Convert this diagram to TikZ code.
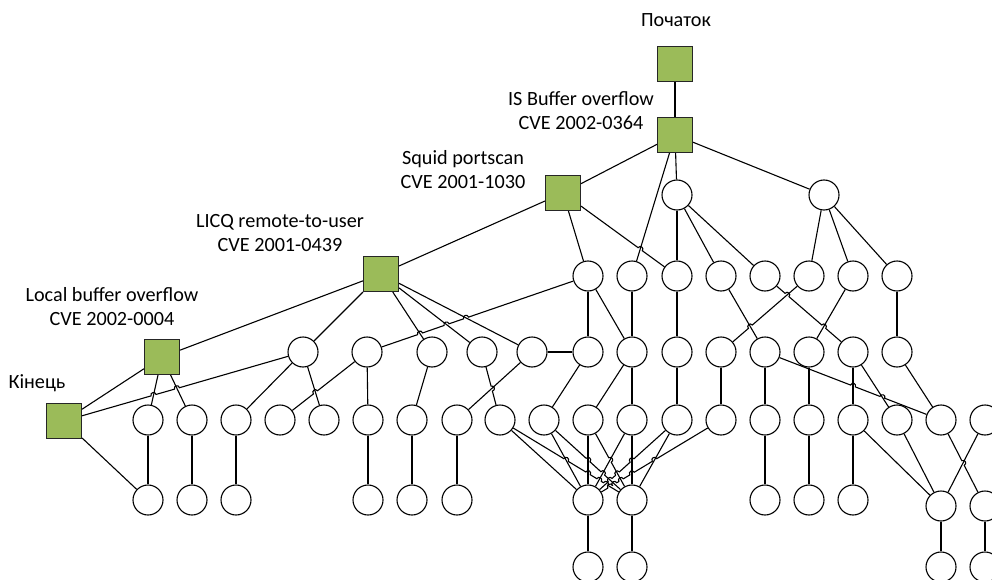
\documentclass[tikz,border=0pt]{standalone}
\usepackage{fontspec}
\setmainfont{Carlito}
\usetikzlibrary{calc}
\definecolor{leaf}{HTML}{9BBB59}
% a small line jump at crossing #1 on a segment running from #2 to #3; #4 picks the side
\newcommand\hopover[4]{-- ($(#1)!2.6pt!(#2)$)
  .. controls ($(#1)!2.6pt!(#2)!3.6pt!#4:(#1)$) and ($(#1)!2.6pt!(#3)!3.6pt!#4:(#3)$)
  .. ($(#1)!2.6pt!(#3)$) }
\begin{document}
\begin{tikzpicture}[x=1pt,y=-1pt,
  event/.style={rectangle,draw=black!85,fill=leaf,minimum size=35pt,inner sep=0pt,line width=1.1pt},
  state/.style={circle,draw=black,fill=white,minimum size=30pt,inner sep=0pt,line width=1.1pt},
  caption/.style={align=center,font=\fontsize{20.2}{24}\selectfont,inner sep=0pt},
  link/.style={line width=1.1pt}]
\useasboundingbox (0,0) rectangle (992,580);
\clip (0,0) rectangle (992,580);

% attack steps
\node[event] (start) at (675,64) {};
\node[event] (is)    at (675,135) {};
\node[event] (squid) at (563,193) {};
\node[event] (licq)  at (381,274) {};
\node[event] (local) at (162,357) {};
\node[event] (fin)   at (64,421) {};

% captions
\node[caption] (tstart) at (676,20) {Початок};
\node[caption] (tis)    at (581,111) {IS Buffer overflow\\CVE 2002-0364};
\node[caption] (tsquid) at (463,170) {Squid portscan\\CVE 2001-1030};
\node[caption] (tlicq)  at (280,233) {LICQ remote-to-user\\CVE 2001-0439};
\node[caption] (tlocal) at (112,307) {Local buffer overflow\\CVE 2002-0004};
\node[caption] (tfin)   at (37,383) {Кінець};

% intermediate states
\foreach \n/\x in {a1/677,a2/824}
  \node[state] (\n) at (\x,195) {};
\foreach \n/\x in {b1/588,b2/632,b3/677,b4/721,b5/765,b6/809,b7/853,b8/897}
  \node[state] (\n) at (\x,276) {};
\foreach \n/\x in {c1/303,c2/367,c3/432,c4/482,c5/532,c6/588,c7/632,c8/677,c9/721,c10/765,c11/809,c12/853,c13/897}
  \node[state] (\n) at (\x,352) {};
\foreach \n/\x in {d1/148,d2/192,d3/236,d4/280,d5/324,d6/368,d7/412,d8/457,d9/500,d10/544,d11/588,d12/632,d13/677,d14/721,d15/765,d16/809,d17/853,d18/897,d19/941,d20/985}
  \node[state] (\n) at (\x,420) {};
\foreach \n/\x in {e1/148,e2/192,e3/236,e4/368,e5/412,e6/457,e7/588,e8/632,e9/765,e10/809,e11/853}
  \node[state] (\n) at (\x,500) {};
\foreach \n/\x in {e12/941,e13/985}
  \node[state] (\n) at (\x,506) {};
\foreach \n/\x in {f1/588,f2/632,f3/941,f4/985}
  \node[state] (\n) at (\x,567) {};

% plain transitions
\foreach \u/\v in {start/is,
    is/squid,is/a1,is/a2,is/b2,
    squid/licq,squid/b1,
    a1/b3,a1/b4,a1/b5,a2/b6,a2/b7,a2/b8,
    b1/c6,b1/c7,b2/c7,b3/c8,b4/c10,b7/c11,b8/c13,
    licq/local,licq/c1,licq/c3,licq/c4,licq/c5,
    local/fin,local/d1,local/d2,fin/e1,
    c1/d3,c1/d5,c2/d6,c3/d7,c5/d8,c5/c6,c6/d10,
    c7/d11,c7/d12,c8/d13,c9/d14,c10/d15,c11/d16,
    c12/d17,c12/d18,c13/d19,
    d1/e1,d2/e2,d3/e3,d6/e4,d7/e5,d8/e6,
    d9/e7,d10/e7,d11/e7,d12/e7,d12/e8,d13/e8,
    d15/e9,d16/e10,d17/e11,d17/e12,d18/e12,d20/e12,
    e7/f1,e8/f2,e12/f3,e13/f4}
  \draw[link] (\u) -- (\v);

% crossing points
\coordinate (h1)  at (intersection of fin--c1 and local--d1);
\coordinate (h2)  at (intersection of fin--c1 and local--d2);
\coordinate (h3)  at (intersection of c2--d4 and c1--d5);
\coordinate (h4)  at (intersection of b1--c2 and licq--c5);
\coordinate (h5)  at (intersection of b1--c2 and licq--c4);
\coordinate (h6)  at (intersection of b1--c2 and licq--c3);
\coordinate (h7)  at (intersection of squid--b3 and is--b2);
\coordinate (h8)  at (intersection of c4--d9 and c5--d8);
\coordinate (h9)  at (intersection of b6--c9 and b4--c10);
\coordinate (h10) at (intersection of b5--c12 and b6--c9);
\coordinate (h11) at (intersection of b5--c12 and b7--c11);
\coordinate (h12) at (intersection of c10--d19 and c12--d17);
\coordinate (h13) at (intersection of c10--d19 and c12--d18);
\coordinate (h14) at (intersection of d19--e13 and d20--e12);
\coordinate (k1)  at (intersection of d9--e8 and d10--e7);
\coordinate (k2)  at (intersection of d9--e8 and d11--e7);
\coordinate (k3)  at (intersection of d9--e8 and d12--e7);
\coordinate (k4)  at (intersection of d9--e8 and d13--e7);
\coordinate (k5)  at (intersection of d10--e8 and d11--e7);
\coordinate (k6)  at (intersection of d10--e8 and d12--e7);
\coordinate (k7)  at (intersection of d11--e8 and d12--e7);
\coordinate (k8)  at (intersection of d13--e7 and d12--e8);
\coordinate (k9)  at (intersection of d13--e7 and d11--e8);
\coordinate (k10) at (intersection of d13--e7 and d10--e8);
\coordinate (k11) at (intersection of d14--e7 and d13--e8);
\coordinate (k12) at (intersection of d14--e7 and d12--e8);
\coordinate (k13) at (intersection of d14--e7 and d11--e8);
\coordinate (k14) at (intersection of d14--e7 and d10--e8);
\coordinate (k15) at (intersection of d14--e7 and d9--e8);

% transitions that jump over others
\draw[link] (fin) \hopover{h1}{fin}{c1}{90} \hopover{h2}{fin}{c1}{90} -- (c1);
\draw[link] (c2) \hopover{h3}{c2}{d4}{-90} -- (d4);
\draw[link] (b1) \hopover{h4}{b1}{c2}{-90} \hopover{h5}{b1}{c2}{-90} \hopover{h6}{b1}{c2}{-90} -- (c2);
\draw[link] (squid) \hopover{h7}{squid}{b3}{90} -- (b3);
\draw[link] (c4) \hopover{h8}{c4}{d9}{90} -- (d9);
\draw[link] (b6) \hopover{h9}{b6}{c9}{-90} -- (c9);
\draw[link] (b5) \hopover{h10}{b5}{c12}{90} \hopover{h11}{b5}{c12}{90} -- (c12);
\draw[link] (c10) \hopover{h12}{c10}{d19}{90} \hopover{h13}{c10}{d19}{90} -- (d19);
\draw[link] (d19) \hopover{h14}{d19}{e13}{90} -- (e13);
\draw[link] (d9) \hopover{k1}{d9}{e8}{90} \hopover{k2}{d9}{e8}{90}
  \hopover{k3}{d9}{e8}{90} \hopover{k4}{d9}{e8}{90} -- (e8);
\draw[link] (d10) \hopover{k5}{d10}{e8}{90} \hopover{k6}{d10}{e8}{90} -- (e8);
\draw[link] (d11) \hopover{k7}{d11}{e8}{90} -- (e8);
\draw[link] (d13) \hopover{k8}{d13}{e7}{-90} \hopover{k9}{d13}{e7}{-90}
  \hopover{k10}{d13}{e7}{-90} -- (e7);
\draw[link] (d14) \hopover{k11}{d14}{e7}{-90} \hopover{k12}{d14}{e7}{-90}
  \hopover{k13}{d14}{e7}{-90} \hopover{k14}{d14}{e7}{-90} \hopover{k15}{d14}{e7}{-90} -- (e7);
\end{tikzpicture}
\end{document}
